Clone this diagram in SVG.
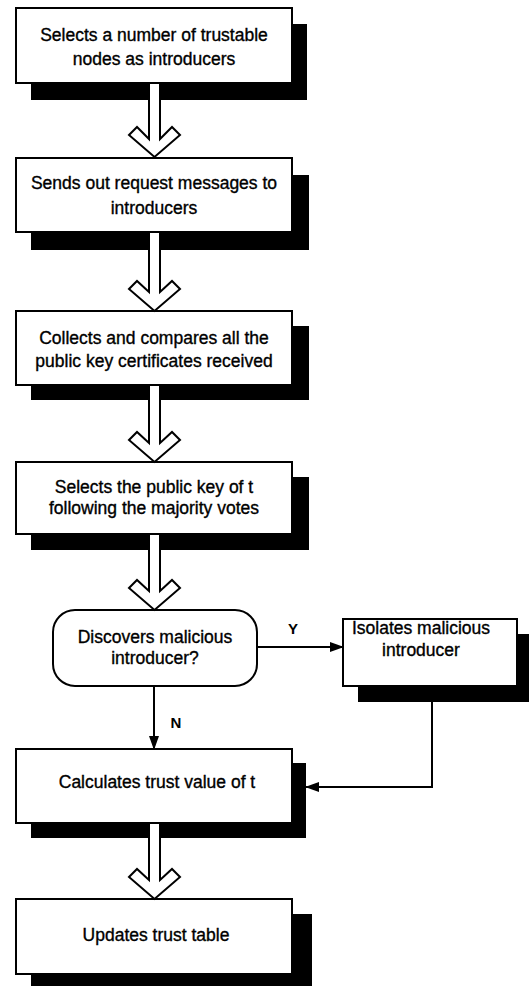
<svg xmlns="http://www.w3.org/2000/svg" width="529" height="986" viewBox="0 0 529 986">
<defs>
<style>
.shadow{fill:#000}
.box{fill:#fff;stroke:#000;stroke-width:2}
.t{font-family:"Liberation Sans",Arial,sans-serif;font-size:17.5px;fill:#000;stroke:#000;stroke-width:0.35;text-anchor:middle}
.lbl{font-family:"Liberation Sans",Arial,sans-serif;font-size:15px;font-weight:bold;fill:#000;text-anchor:middle}
.blk{fill:#fff;stroke:#000;stroke-width:2;stroke-linejoin:miter}
.line{fill:none;stroke:#000;stroke-width:2}
</style>
<marker id="ah" markerWidth="14" markerHeight="10" refX="13" refY="5" orient="auto" markerUnits="userSpaceOnUse">
<path d="M0,0 L14,5 L0,10 Z" fill="#000"/>
</marker>
</defs>
<rect width="529" height="986" fill="#fff"/>

<g id="n1">
<rect class="shadow" x="31" y="24" width="276" height="76"/>
<rect class="box" x="16" y="8" width="276" height="75"/>
<text class="t" x="154" y="41">Selects a number of trustable</text>
<text class="t" x="154" y="65">nodes as introducers</text>
</g>

<g id="n2">
<rect class="shadow" x="31" y="175" width="278" height="75"/>
<rect class="box" x="16" y="158" width="276" height="74"/>
<text class="t" x="154" y="189">Sends out request messages to</text>
<text class="t" x="154" y="214">introducers</text>
</g>

<g id="n3">
<rect class="shadow" x="31" y="326" width="278" height="74"/>
<rect class="box" x="16" y="311" width="276" height="74"/>
<text class="t" x="154" y="344">Collects and compares all the</text>
<text class="t" x="154" y="367">public key certificates received</text>
</g>

<g id="n4">
<rect class="shadow" x="31" y="477" width="278" height="73"/>
<rect class="box" x="16" y="462" width="276" height="72"/>
<text class="t" x="154" y="493">Selects the public key of t</text>
<text class="t" x="154" y="514">following the majority votes</text>
</g>

<g id="n5">
<rect class="box" x="53" y="610" width="204" height="76" rx="22" ry="22"/>
<text class="t" x="155" y="643">Discovers malicious</text>
<text class="t" x="155" y="664">introducer?</text>
</g>

<g id="n6">
<rect class="shadow" x="358" y="634" width="171" height="68"/>
<rect class="box" x="343" y="619" width="174" height="67"/>
<text class="t" x="421" y="634">Isolates malicious</text>
<text class="t" x="421" y="656">introducer</text>
</g>

<g id="n7">
<rect class="shadow" x="31" y="763" width="275" height="75"/>
<rect class="box" x="16" y="749" width="276" height="74"/>
<text class="t" x="157" y="788">Calculates trust value of t</text>
</g>

<g id="n8">
<rect class="shadow" x="31" y="914" width="281" height="72"/>
<rect class="box" x="16" y="899" width="276" height="75"/>
<text class="t" x="156" y="941">Updates trust table</text>
</g>

<g id="connectors">
<path class="blk" d="M149,83 L149,139 L137,127 L129,135 L154.5,157 L180,135 L172,127 L160,139 L160,83 Z"/>
<path class="blk" d="M149,232 L149,292 L137,281 L129,289 L154.5,311 L180,289 L172,281 L160,292 L160,232 Z"/>
<path class="blk" d="M149,385 L149,443 L137,432 L129,440 L154.5,462 L180,440 L172,432 L160,443 L160,385 Z"/>
<path class="blk" d="M149,534 L149,591 L137,580 L129,588 L154.5,610 L180,588 L172,580 L160,591 L160,534 Z"/>
<path class="blk" d="M149,823 L149,880 L137,869 L129,877 L154.5,899 L180,877 L172,869 L160,880 L160,823 Z"/>
<line class="line" x1="257" y1="647" x2="343" y2="647" marker-end="url(#ah)"/>
<line class="line" x1="154" y1="686" x2="154" y2="749" marker-end="url(#ah)"/>
<polyline class="line" points="432,702 432,787 306,787" marker-end="url(#ah)"/>
<text class="lbl" x="293" y="634">Y</text>
<text class="lbl" x="176" y="728">N</text>
</g>
</svg>
